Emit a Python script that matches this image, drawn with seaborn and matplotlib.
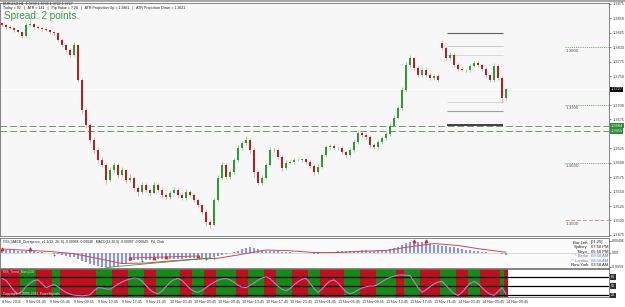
import matplotlib
matplotlib.use("Agg")
import matplotlib.pyplot as plt
import seaborn as sns
import pandas as pd

sns.set_style("white")
plt.rcParams["font.family"] = ["Liberation Sans", "DejaVu Sans"]

# ---- price data ----
closes = [1.3839, 1.3835, 1.3833, 1.3830, 1.3826, 1.3820, 1.3839, 1.3840, 1.3835, 1.3833,
          1.3832, 1.3830, 1.3826, 1.3825, 1.3813, 1.3804, 1.3795, 1.3787, 1.3804, 1.3743,
          1.3691, 1.3665, 1.3640, 1.3622, 1.3605, 1.3596, 1.3570, 1.3587, 1.3596, 1.3579,
          1.3587, 1.3570, 1.3574, 1.3556, 1.3549, 1.3561, 1.3553, 1.3548, 1.3561, 1.3553,
          1.3544, 1.3541, 1.3548, 1.3553, 1.3544, 1.3539, 1.3549, 1.3544, 1.3536, 1.3527,
          1.3515, 1.3497, 1.3492, 1.3536, 1.3574, 1.3596, 1.3575, 1.3584, 1.3605, 1.3625,
          1.3634, 1.3640, 1.3622, 1.3584, 1.3565, 1.3574, 1.3596, 1.3622, 1.3622, 1.3610,
          1.3591, 1.3600, 1.3601, 1.3605, 1.3605, 1.3606, 1.3601, 1.3594, 1.3584, 1.3593,
          1.3613, 1.3627, 1.3629, 1.3625, 1.3625, 1.3619, 1.3613, 1.3622, 1.3636, 1.3652,
          1.3648, 1.3645, 1.3631, 1.3627, 1.3636, 1.3643, 1.3650, 1.3664, 1.3678, 1.3695,
          1.3726, 1.3769, 1.3781, 1.3764, 1.3752, 1.3761, 1.3752, 1.3747, 1.3750, 1.3743,
          1.3799, 1.3781, 1.3787, 1.3769, 1.3762, 1.3761, 1.3761, 1.3768, 1.3773, 1.3769,
          1.3762, 1.3752, 1.3743, 1.3768, 1.3747, 1.3712, 1.3727]
first_open = 1.3842
gap_bar = 110
gap_open = 1.3807
wick_up = [2, 2, 3, 2, 2, 2, 3, 11, 2, 3, 2, 3, 2, 2, 2, 3, 2, 3, 6, 2,
           3, 4, 3, 4, 3, 5, 3, 6, 5, 4, 6, 3, 6, 3, 4, 5, 4, 3, 6, 4,
           3, 4, 5, 5, 3, 3, 5, 3, 3, 3, 2, 3, 4, 3, 4, 5, 3, 4, 4, 5,
           4, 6, 3, 3, 3, 4, 4, 5, 4, 3, 3, 4, 3, 3, 3, 3, 2, 3, 3, 4,
           3, 4, 3, 3, 3, 3, 2, 4, 5, 4, 3, 3, 3, 3, 4, 3, 4, 5, 4, 4,
           5, 6, 5, 3, 3, 4, 3, 3, 3, 3, 6, 3, 4, 3, 3, 3, 2, 3, 3, 3,
           2, 3, 2, 4, 3, 3, 2]
wick_dn = [2, 3, 2, 3, 2, 4, 2, 2, 3, 2, 3, 2, 3, 4, 3, 4, 3, 4, 2, 4,
           5, 5, 6, 5, 5, 4, 6, 3, 4, 5, 3, 5, 4, 5, 6, 3, 4, 5, 3, 4,
           5, 4, 3, 3, 5, 4, 3, 4, 4, 4, 5, 6, 5, 2, 3, 3, 4, 3, 3, 3,
           3, 3, 5, 8, 4, 3, 3, 2, 3, 4, 5, 3, 3, 3, 2, 3, 3, 3, 5, 3,
           2, 3, 3, 3, 3, 3, 4, 3, 3, 3, 4, 4, 6, 4, 3, 3, 3, 3, 2, 3,
           3, 3, 3, 3, 4, 3, 3, 4, 3, 4, 3, 3, 3, 3, 3, 2, 3, 3, 3, 3,
           3, 3, 4, 3, 3, 8, 3]

time_labels = ["8 Nov 2011", "9 Nov 01:45", "9 Nov 05:45", "9 Nov 09:45", "9 Nov 13:45",
               "9 Nov 17:45", "9 Nov 21:45", "10 Nov 01:45", "10 Nov 05:45", "10 Nov 09:45",
               "10 Nov 13:45", "10 Nov 17:45", "10 Nov 21:45", "11 Nov 01:45", "11 Nov 05:45",
               "11 Nov 09:45", "11 Nov 13:45", "11 Nov 17:45", "11 Nov 21:45", "14 Nov 01:45",
               "14 Nov 05:45", "14 Nov 09:45"]
price_ticks = [1.3875, 1.3850, 1.3825, 1.3800, 1.3775, 1.3750, 1.3700, 1.3675,
               1.3625, 1.3600, 1.3575, 1.3550, 1.3525, 1.3500, 1.3475]
round_levels = [1.3800, 1.3700, 1.3600, 1.3500]
round_colors = ["#5f9f5f", "#5f9f5f", "#5f9f5f", "#e89090"]
atr_levels = [1.3825, 1.3802, 1.3787, 1.3705, 1.3690, 1.3665]
atr_colors = ["#606060", "#c8c8c8", "#d8d8d8", "#d8d8d8", "#a0a0a0", "#202020"]
zone_levels = [1.3664, 1.3655]
last_price = 1.3727

# ---- MACD panel (units of 0.0001) ----
macd = [12, 13, 13, 12, 10, 8, 8, 9, 8, 6,
        4, 2, 0, -2, -5, -8, -12, -16, -17, -23,
        -30, -36, -42, -47, -51, -54, -57, -58, -55, -50,
        -44, -38, -33, -29, -28, -27, -27, -26, -25, -25,
        -24, -24, -23, -23, -22, -22, -21, -20, -19, -18,
        -18, -19, -20, -17, -12, -7, -4, -1, 3, 8,
        16, 21, 23, 20, 15, 11, 10, 10, 10, 8,
        6, 4, 3, 2, 1, 1, 0, -1, -2, -2,
        -1, 2, 4, 6, 7, 7, 7, 7, 8, 10,
        11, 11, 10, 10, 11, 12, 13, 16, 20, 26,
        33, 40, 45, 47, 46, 44, 41, 37, 34, 31,
        29, 28, 26, 23, 20, 17, 14, 12, 10, 8,
        6, 4, 2, 1, -1, -4, -6]
signal_bars = [0, 6, 12, 18, 24, 30, 36, 42, 48, 54, 60, 66, 72, 78, 84, 90, 96, 102, 108, 114, 120, 126]
signal_vals = [16, 11, 6, -3, -22, -42, -40, -32, -25, -21, -5, 12, 9, 2, 2, 7, 10, 25, 38, 30, 15, 3]
up_marks_bars = [0, 7, 32, 38, 41, 49, 103, 106]
up_marks_vals = [17, 18, -20, -18, -16, -12, 50, 48]
dn_marks_bars = [13, 26, 35, 51, 53]
dn_marks_vals = [-6, -58, -30, -22, -21]
clock_names = ["Bar Left", "Sydney", "Tokyo", "* Berlin", "* London", "New York"]
clock_times = ["[01:25]", "07:58 PM", "05:58 PM", "09:58 AM", "08:58 AM", "03:58 AM"]
clock_colors = ["#202020", "#202020", "#202020", "#5a7fd8", "#5a7fd8", "#202020"]

# ---- lower oscillator panel ----
stoch = [75, 68, 52, 35, 25, 32, 48, 60, 68, 70, 58, 45, 50, 55, 48, 38, 30, 24, 21, 20,
         19, 20, 22, 35, 45, 44, 41, 40, 48, 56, 63, 69, 73, 76, 75, 66, 52, 38, 29, 25,
         34, 48, 62, 71, 75, 68, 55, 42, 33, 30, 36, 45, 54, 62, 69, 73, 75, 70, 62, 53,
         47, 45, 52, 60, 69, 76, 80, 74, 62, 50, 40, 35, 42, 54, 64, 72, 75, 60, 42, 30,
         40, 55, 66, 70, 60, 45, 32, 25, 30, 38, 44, 48, 50, 50, 56, 64, 72, 78, 82, 85,
         86, 85, 84, 65, 45, 30, 38, 48, 57, 63, 65, 52, 38, 26, 20, 30, 45, 58, 65, 58,
         45, 33, 24, 20, 32, 45, 25]
band_segments = [(0, 4, "R"), (5, 8, "G"), (9, 12, "R"), (13, 14, "G"), (15, 23, "R"),
                 (24, 27, "G"), (28, 31, "R"), (32, 35, "G"), (36, 38, "R"), (39, 44, "G"),
                 (45, 47, "R"), (48, 50, "G"), (51, 53, "R"), (54, 58, "G"), (59, 61, "R"),
                 (62, 65, "G"), (66, 68, "R"), (69, 72, "G"), (73, 76, "R"), (77, 79, "G"),
                 (80, 85, "R"), (86, 89, "G"), (90, 93, "R"), (94, 98, "G"), (99, 100, "R"),
                 (101, 104, "G"), (105, 109, "R"), (110, 113, "G"), (114, 116, "R"),
                 (117, 119, "G"), (120, 124, "R"), (125, 125, "G"), (126, 126, "R")]
stoch_levels = [80, 50, 20]

# ---- frame ----
n = len(closes)
opens = [first_open] + closes[:-1]
opens[gap_bar] = gap_open
df = pd.DataFrame({"bar": range(n), "open": opens, "close": closes})
df["high"] = df[["open", "close"]].max(axis=1) + pd.Series(wick_up) * 0.0001
df["low"] = df[["open", "close"]].min(axis=1) - pd.Series(wick_dn) * 0.0001
df["bull"] = df["close"] >= df["open"]

W, H = 625, 307
fig = plt.figure(figsize=(W / 100, H / 100), dpi=100)
fig.patch.set_facecolor("white")
x_lo, x_hi = -0.5, 151.75
right = 609 / W

ax = fig.add_axes([0, 1 - 236 / H, right, 233 / H])
axm = fig.add_axes([0, 1 - 268 / H, right, 30.5 / H])
axb = fig.add_axes([0, 1 - 297 / H, right, 28 / H])

for a in (ax, axm, axb):
    a.set_xlim(x_lo, x_hi)
    for s in a.spines.values():
        s.set_color("#707070")
        s.set_linewidth(0.6)
    a.set_xticks([])

# main price panel
ax.set_facecolor("#f7f7f7")
ax.set_ylim(1.34731, 1.38767)
ax.axhline(last_price, color="#ffffff", lw=0.8, zorder=1)
for z in zone_levels:
    ax.axhline(z, color="#6f9a6f", lw=0.7, ls=(0, (7, 3)), zorder=2)
for lvl, c in zip(round_levels, round_colors):
    style = (0, (4, 2)) if lvl == 1.3500 else (0, (1, 1.2))
    ax.hlines(lvl, 140.75, x_hi, colors=c, lw=0.7, ls=style)
    ax.text(140.9, lvl - 0.00022, f"{lvl:.4f}", fontsize=3.2, color="#555555", va="top", ha="left")
ax.hlines(atr_levels, 111.25, 125.25, colors=atr_colors, lw=[0.8, 0.7, 0.7, 0.7, 0.8, 1.2])

body_h = (df["close"] - df["open"]).abs().clip(lower=0.00004)
body_b = df[["open", "close"]].min(axis=1)
ax.vlines(df["bar"], df["low"], df["high"],
          colors=df["bull"].map({True: "#7cc47c", False: "#d99a9a"}), lw=0.5, zorder=3)
ax.bar(df["bar"], body_h, bottom=body_b, width=0.45, linewidth=0, zorder=4,
       color=df["bull"].map({True: "#2f9a2f", False: "#b51f1f"}))

ax.yaxis.tick_right()
ax.set_yticks(price_ticks)
ax.set_yticklabels([f"{p:.4f}" for p in price_ticks])
ax.tick_params(axis="y", labelsize=2.8, length=1.5, width=0.4, pad=0.8, colors="#333333")
ax.text(1.003, last_price, f"{last_price:.4f}", transform=ax.get_yaxis_transform(),
        fontsize=2.8, color="white", va="center", ha="left",
        bbox=dict(boxstyle="square,pad=0.2", fc="black", ec="none"))
for z in zone_levels:
    ax.text(1.003, z, f"{z:.4f}", transform=ax.get_yaxis_transform(),
            fontsize=2.8, color="white", va="center", ha="left",
            bbox=dict(boxstyle="square,pad=0.15", fc="#2e8b3a", ec="none"))

fig.text(3 / W, 1 - 3.6 / H, "EURUSD,H1  1.3733 1.3739 1.3722 1.3727",
         fontsize=2.6, va="center", color="#222222")
fig.text(3 / W, 1 - 8.2 / H,
         "Today = 92   |   ATR = 141   |   Pip Value = 7.28   |   ATR Projection Up = 1.3861   |   ATR Projection Down = 1.3621",
         fontsize=2.6, va="center", color="#222222")
fig.text(4 / W, 1 - 16 / H, "Spread: 2 points.", fontsize=7.2, va="center", color="#3c9a4c")

# MACD panel
axm.set_facecolor("#fbfbfb")
axm.set_ylim(-60, 62)
axm.axhline(0, color="#c0c0c0", lw=0.4)
axm.vlines(range(n), 0, macd, colors="#8a96dc", lw=1.5)
sns.lineplot(x=signal_bars, y=signal_vals, ax=axm, color="#d04848", lw=0.7)
sns.lineplot(x=[32, 49], y=[-20, -12], ax=axm, color="#d04848", lw=0.6)
sns.lineplot(x=[26, 52], y=[-58, -20], ax=axm, color="#3c9a3c", lw=0.6)
axm.scatter(up_marks_bars, up_marks_vals, marker="^", s=3, color="#d03030", zorder=5)
axm.scatter(dn_marks_bars, dn_marks_vals, marker="+", s=4, color="#2e8b2e", lw=0.6, zorder=5)
axm.set_xlim(x_lo, x_hi)
axm.set_xticks([])
axm.set_xlabel("")
axm.set_ylabel("")
axm.yaxis.tick_right()
axm.set_yticks([49.6, 0, -55])
axm.set_yticklabels(["0.00496", "0.00", "-0.0059"])
axm.tick_params(axis="y", labelsize=2.5, length=1.5, width=0.4, pad=0.8, colors="#333333")
fig.text(3 / W, 1 - 241.5 / H,
         "FXS_MACD_Divergence_v1.1(12, 26, 9) -0.00068 -0.00048   MACD(12,26,9) -0.00097 -0.00049   P4, Click",
         fontsize=2.4, va="center", color="#222222")
for k, (nm, tm, c) in enumerate(zip(clock_names, clock_times, clock_colors)):
    yy = 1 - (242.5 + k * 4.6) / H
    fig.text(588 / W, yy, nm, fontsize=3.0, ha="right", va="center", color=c)
    fig.text(591 / W, yy, tm, fontsize=3.0, ha="left", va="center", color=c)

# lower band panel
axb.set_facecolor("white")
axb.set_ylim(15, 105)
for s0, s1, c in band_segments:
    axb.axvspan(s0 - 0.5, s1 + 0.5, color="#bf1020" if c == "R" else "#168a16", lw=0, zorder=1)
for lv in stoch_levels:
    axb.axhline(lv, color="black", lw=0.9, zorder=2)
sns.lineplot(x=list(range(n)), y=stoch, ax=axb, color="#c07ad8", lw=0.8, zorder=3)
axb.set_xlim(x_lo, x_hi)
axb.set_xlabel("")
axb.set_ylabel("")
axb.set_yticks([])
for lv in stoch_levels:
    axb.text(1.003, lv, str(lv), transform=axb.get_yaxis_transform(), fontsize=2.6,
             color="white", va="center", ha="left",
             bbox=dict(boxstyle="square,pad=0.2", fc="#303030", ec="none"))
fig.text(3 / W, 1 - 272 / H, "FXS_Trend_Bars(14)", fontsize=2.4, va="center", color="#f0d0d0")
fig.text(3 / W, 1 - 293.5 / H, "Copyright \u00a9 2005-2011, ForexSignals", fontsize=2.4,
         va="center", color="#f0e0e0")

tick_pos = list(range(0, n, 6))
axb.set_xticks(tick_pos)
axb.set_xticklabels(time_labels)
axb.tick_params(axis="x", labelsize=2.7, length=1.5, width=0.4, pad=1, colors="#333333")
for lab in axb.get_xticklabels():
    lab.set_horizontalalignment("left")

# window border at top
fig.add_artist(plt.Rectangle((0, 1 - 2 / H), 1, 2 / H, transform=fig.transFigure,
                             color="#a8a8a8", lw=0))

fig.savefig("out.png", dpi=100)
